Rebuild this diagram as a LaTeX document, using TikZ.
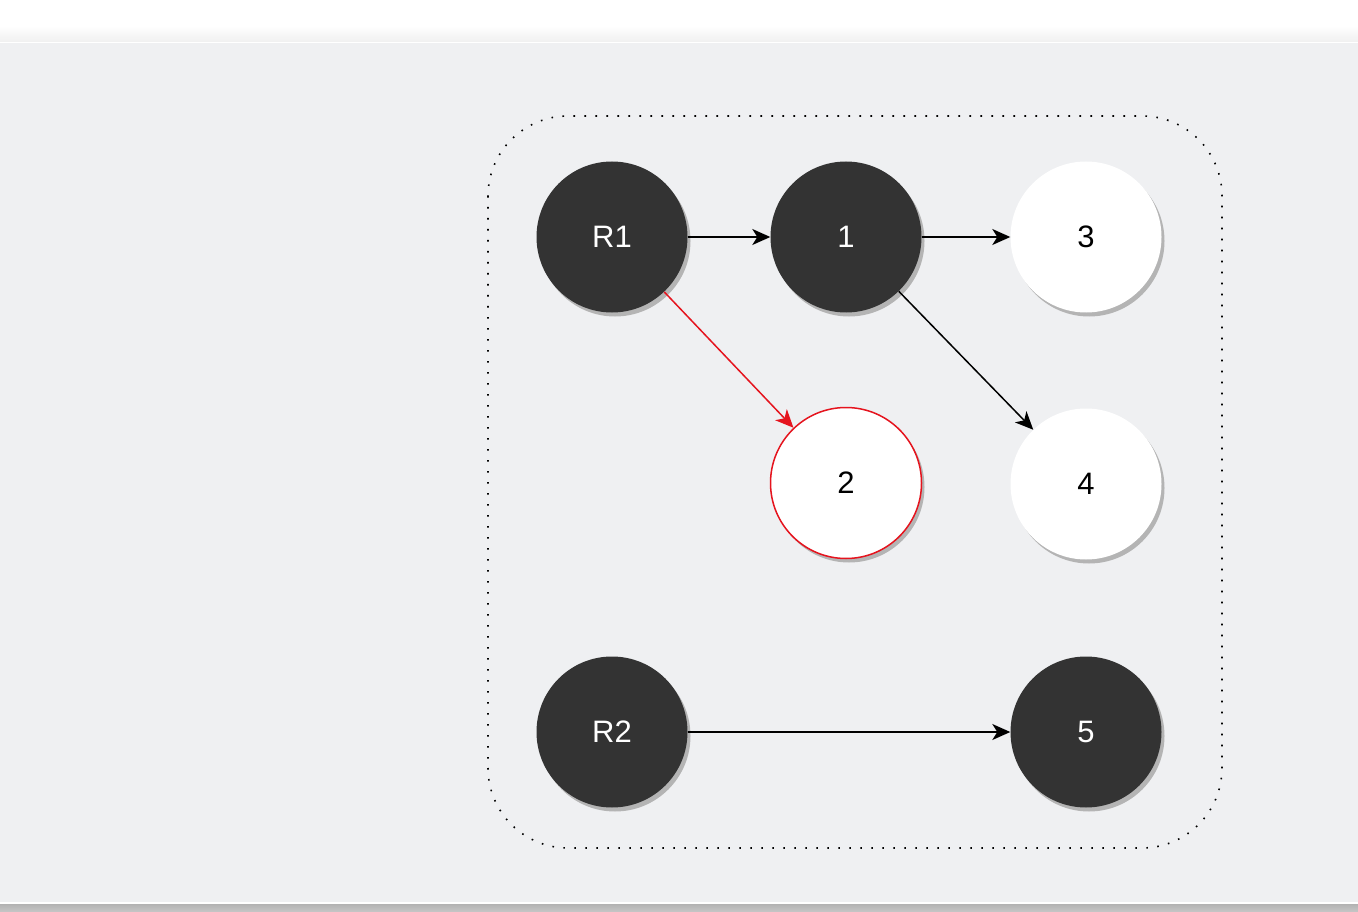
\documentclass[tikz,border=0pt]{standalone}
\usepackage{fontspec}
\setmainfont{Liberation Sans}
\usetikzlibrary{arrows.meta,shadows}
\definecolor{pagebg}{HTML}{EFF0F2}
\definecolor{darkfill}{HTML}{333333}
\definecolor{edgered}{HTML}{E5141E}
\definecolor{shadowgray}{HTML}{B4B4B4}
\tikzset{
  nodebase/.style={circle, minimum size=151pt, inner sep=0pt, font=\fontsize{31}{31}\selectfont,
    drop shadow={shadow xshift=3pt, shadow yshift=-4pt, fill=shadowgray, opacity=1}},
  darknode/.style={nodebase, fill=darkfill, text=white},
  lightnode/.style={nodebase, fill=white, text=black},
  rednode/.style={nodebase, fill=white, draw=edgered, line width=1.5pt, text=black},
  link/.style={line width=1.5pt, -{Stealth[length=18pt, width=16pt, inset=5pt]}},
  redlink/.style={link, draw=edgered},
  groupframe/.style={line width=1.6pt, dash pattern=on 1.6pt off 9.4pt, rounded corners=80pt}
}
\begin{document}
\begin{tikzpicture}[x=1pt, y=-1pt]
  % canvas and window chrome
  \useasboundingbox (0,0) rectangle (1358,912);
  \fill[pagebg] (0,0) rectangle (1358,912);
  \fill[white] (0,0) rectangle (1358,26);
  \shade[top color=white, bottom color=black!6] (0,26) rectangle (1358,42);
  \fill[white] (0,42) rectangle (1358,43.5);
  \fill[white] (0,902) rectangle (1358,904);
  \shade[top color=black!30, bottom color=black!22] (0,904) rectangle (1358,912);

  % dotted group frame
  \draw[groupframe] (488,116) rectangle (1222,848);

  % nodes
  \node[darknode]  (R1) at (612,237) {R1};
  \node[darknode]  (n1) at (846,237) {1};
  \node[lightnode] (n3) at (1086,237) {3};
  \node[rednode]   (n2) at (846,483) {2};
  \node[lightnode] (n4) at (1086,484) {4};
  \node[darknode]  (R2) at (612,732) {R2};
  \node[darknode]  (n5) at (1086,732) {5};

  % connectors
  \draw[link] (R1) -- (n1);
  \draw[link] (n1) -- (n3);
  \draw[link] (n1) -- (n4);
  \draw[redlink] (R1) -- (n2);
  \draw[link] (R2) -- (n5);
\end{tikzpicture}
\end{document}
